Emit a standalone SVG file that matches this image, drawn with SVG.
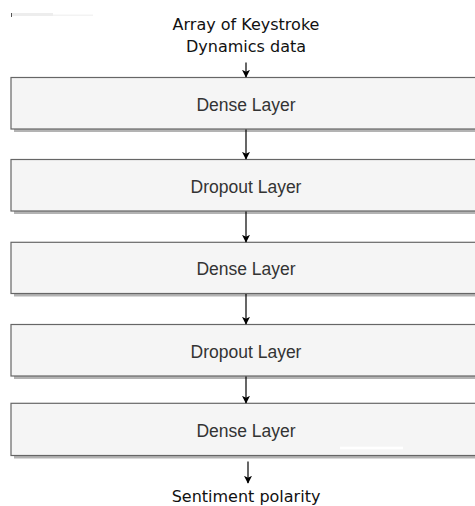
<svg xmlns="http://www.w3.org/2000/svg" width="475" height="506" viewBox="0 0 475 506">
<style>
.box{fill:#f5f5f5;stroke:#666;stroke-width:1.2}
.shadow{fill:#b3b3b3}
.lbl{font-family:"Liberation Sans",Arial,sans-serif;font-size:17.5px;fill:#333;text-anchor:middle}
.ext{font-family:"DejaVu Sans",sans-serif;font-size:16px;fill:#111;text-anchor:middle}
.edge{stroke:#000;stroke-width:1.2;fill:none}
</style>
<defs>
<marker id="ah" viewBox="0 0 10 10" refX="9" refY="5" markerWidth="8" markerHeight="8" markerUnits="userSpaceOnUse" orient="auto">
<path d="M0,0 L10,5 L0,10 L2.5,5 Z" fill="#000"/>
</marker>
</defs>
<rect fill="#ededed" x="11" y="13" width="42" height="3"/>
<rect fill="#f3f3f3" x="53" y="14.5" width="40" height="1.5"/>
<rect fill="#555" x="11" y="13" width="1" height="4"/>
<g id="input">
<text class="ext" x="246" y="30">Array of Keystroke</text>
<text class="ext" x="246" y="51.5">Dynamics data</text>
</g>
<g id="dense1">
<rect class="shadow" x="14" y="129" width="470" height="3"/>
<rect class="box" x="11" y="77.5" width="475" height="51.5"/>
<text class="lbl" x="246" y="110.5">Dense Layer</text>
</g>
<g id="dropout1">
<rect class="shadow" x="14" y="211" width="470" height="3"/>
<rect class="box" x="11" y="159.5" width="475" height="51.5"/>
<text class="lbl" x="246" y="192.5">Dropout Layer</text>
</g>
<g id="dense2">
<rect class="shadow" x="14" y="293.5" width="470" height="3"/>
<rect class="box" x="11" y="242.3" width="475" height="51.2"/>
<text class="lbl" x="246" y="275">Dense Layer</text>
</g>
<g id="dropout2">
<rect class="shadow" x="14" y="376" width="470" height="3"/>
<rect class="box" x="11" y="324.5" width="475" height="51.5"/>
<text class="lbl" x="246" y="357.5">Dropout Layer</text>
</g>
<g id="dense3">
<rect class="shadow" x="14" y="455.5" width="470" height="3"/>
<rect class="box" x="11" y="403.3" width="475" height="52.2"/>
<text class="lbl" x="246" y="436.5">Dense Layer</text>
<rect fill="#ffffff" x="340" y="446.7" width="63" height="2.6"/>
</g>
<g id="output">
<text class="ext" x="246" y="501.5">Sentiment polarity</text>
</g>
<g id="connectors">
<path class="edge" d="M246,62.5 V77" marker-end="url(#ah)"/>
<path class="edge" d="M246,129.5 V159" marker-end="url(#ah)"/>
<path class="edge" d="M246,211.5 V242" marker-end="url(#ah)"/>
<path class="edge" d="M246,294 V324" marker-end="url(#ah)"/>
<path class="edge" d="M246,376.5 V403" marker-end="url(#ah)"/>
<path class="edge" d="M248,461.5 V483" marker-end="url(#ah)"/>
</g>
</svg>
